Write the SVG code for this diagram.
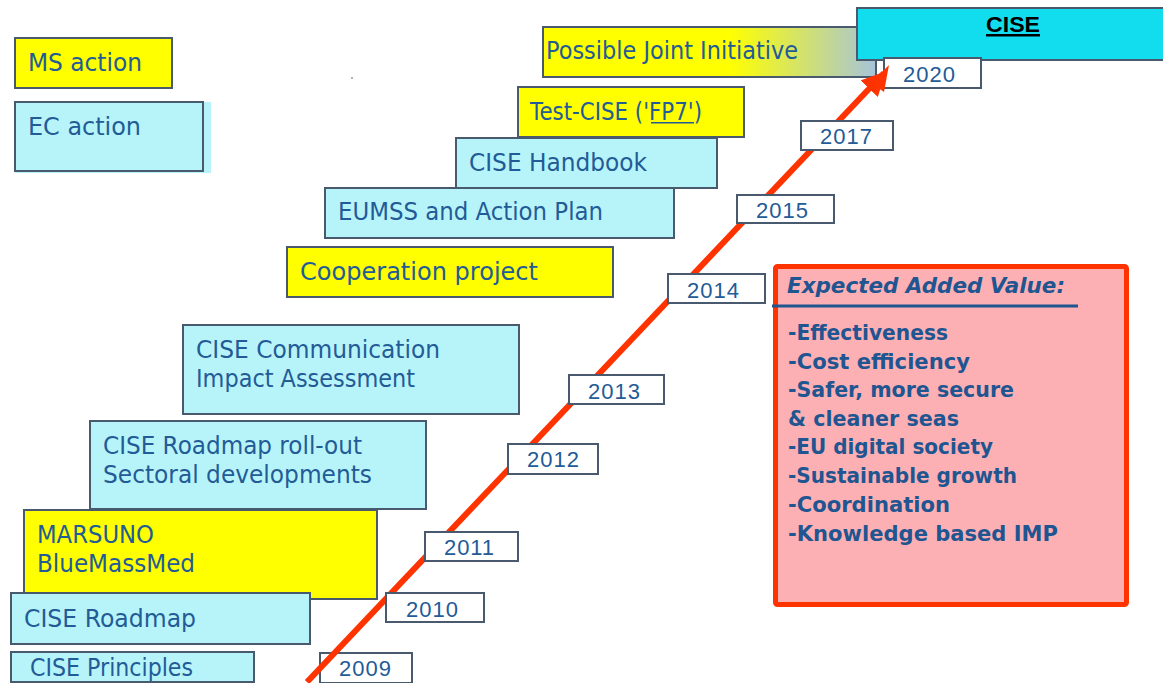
<svg xmlns="http://www.w3.org/2000/svg" width="1163" height="683" viewBox="0 0 1163 683">
<style>
.box{stroke:#4a5a6e;stroke-width:2}
.ms{fill:#ffff00}
.ec{fill:#b7f4f9}
.yr{fill:#ffffff;stroke:#4a5a6e;stroke-width:2}
.t{font-family:"DejaVu Sans",sans-serif;font-size:24px;fill:#235b97}
.y{font-family:"Liberation Sans",Arial,sans-serif;font-size:22px;fill:#235b97;text-anchor:middle}
.v{font-family:"DejaVu Sans",sans-serif;font-size:22px;font-weight:bold;fill:#1f5590}
</style>
<defs>
<linearGradient id="pji" x1="0" y1="0" x2="1" y2="0">
<stop offset="0" stop-color="#ffff00"/>
<stop offset="0.56" stop-color="#ffff00"/>
<stop offset="1" stop-color="#a6c4da"/>
</linearGradient>
<marker id="ah" viewBox="0 0 10 10" refX="9" refY="5" markerWidth="4" markerHeight="4" orient="auto" markerUnits="strokeWidth">
<path d="M0,0 L10,5 L0,10 z" fill="#ff3300"/>
</marker>
</defs>
<rect width="1163" height="683" fill="#ffffff"/>
<circle cx="352" cy="78" r="0.8" fill="#555"/>

<g id="legend-ms"><rect class="box ms" x="15" y="38" width="157" height="50"/><text class="t" x="28" y="71" textLength="114" lengthAdjust="spacingAndGlyphs">MS action</text></g>
<g id="legend-ec"><rect x="15" y="102" width="196" height="71" fill="#b7f4f9"/><rect class="box ec" x="15" y="102" width="188" height="69"/><text class="t" x="28" y="135" textLength="113" lengthAdjust="spacingAndGlyphs">EC action</text></g>

<g id="possible-joint"><rect class="box" fill="url(#pji)" x="543" y="27" width="333" height="50"/><text class="t" x="546" y="59" textLength="252" lengthAdjust="spacingAndGlyphs">Possible Joint Initiative</text></g>
<g id="cise"><rect x="857" y="8" width="310" height="52" fill="#12ddef" stroke="#4a5a6e" stroke-width="2"/><text x="1013" y="32" text-anchor="middle" font-family="Liberation Sans,Arial,sans-serif" font-size="22" font-weight="bold" fill="#000" textLength="54" lengthAdjust="spacingAndGlyphs">CISE</text><rect x="986" y="34" width="54" height="2.5" fill="#000"/></g>
<g id="test-cise"><rect class="box ms" x="518" y="87" width="226" height="50"/>
<text class="t" x="530" y="120" textLength="172" lengthAdjust="spacingAndGlyphs">Test-CISE ('FP7')</text>
<rect x="651" y="122" width="43" height="1.5" fill="#235b97"/></g>
<g id="handbook"><rect class="box ec" x="456" y="138" width="261" height="50"/><text class="t" x="469" y="171" textLength="178" lengthAdjust="spacingAndGlyphs">CISE Handbook</text></g>
<g id="eumss"><rect class="box ec" x="325" y="188" width="349" height="50"/><text class="t" x="338" y="220" textLength="265" lengthAdjust="spacingAndGlyphs">EUMSS and Action Plan</text></g>
<g id="cooperation"><rect class="box ms" x="287" y="247" width="326" height="50"/><text class="t" x="300" y="280" textLength="238" lengthAdjust="spacingAndGlyphs">Cooperation project</text></g>
<g id="communication"><rect class="box ec" x="183" y="325" width="336" height="89"/><text class="t" x="196" y="358" textLength="244" lengthAdjust="spacingAndGlyphs">CISE Communication</text><text class="t" x="196" y="387" textLength="219" lengthAdjust="spacingAndGlyphs">Impact Assessment</text></g>
<g id="rollout"><rect class="box ec" x="90" y="421" width="336" height="88"/><text class="t" x="103" y="454" textLength="259" lengthAdjust="spacingAndGlyphs">CISE Roadmap roll-out</text><text class="t" x="103" y="483" textLength="269" lengthAdjust="spacingAndGlyphs">Sectoral developments</text></g>
<g id="marsuno"><rect class="box ms" x="24" y="510" width="353" height="89"/><text class="t" x="37" y="543" textLength="117" lengthAdjust="spacingAndGlyphs">MARSUNO</text><text class="t" x="37" y="572" textLength="158" lengthAdjust="spacingAndGlyphs">BlueMassMed</text></g>
<g id="roadmap"><rect class="box ec" x="11" y="593" width="299" height="51"/><text class="t" x="24" y="627" textLength="172" lengthAdjust="spacingAndGlyphs">CISE Roadmap</text></g>
<g id="principles"><rect class="box ec" x="11" y="652" width="243" height="30"/><text class="t" x="30" y="676" textLength="163" lengthAdjust="spacingAndGlyphs">CISE Principles</text></g>

<g id="y2009"><rect class="yr" x="320" y="653" width="92" height="30"/><text class="y" x="365" y="676" textLength="52">2009</text></g>

<g id="connectors">
<line x1="307" y1="682" x2="884" y2="73" stroke="#ff3300" stroke-width="6" marker-end="url(#ah)"/>
</g>

<g id="y2010"><rect class="yr" x="386" y="593" width="98" height="29"/><text class="y" x="432" y="617" textLength="52">2010</text></g>
<g id="y2011"><rect class="yr" x="425" y="532" width="93" height="29"/><text class="y" x="469" y="555" textLength="50">2011</text></g>
<g id="y2012"><rect class="yr" x="508" y="444" width="90" height="30"/><text class="y" x="553" y="467" textLength="52">2012</text></g>
<g id="y2013"><rect class="yr" x="569" y="375" width="95" height="29"/><text class="y" x="614" y="399" textLength="52">2013</text></g>
<g id="y2014"><rect class="yr" x="668" y="274" width="97" height="29"/><text class="y" x="713" y="298" textLength="52">2014</text></g>
<g id="y2015"><rect class="yr" x="737" y="195" width="97" height="28"/><text class="y" x="782" y="218" textLength="52">2015</text></g>
<g id="y2017"><rect class="yr" x="801" y="121" width="92" height="29"/><text class="y" x="846" y="144" textLength="52">2017</text></g>
<g id="y2020"><rect class="yr" x="884" y="58" width="97" height="30"/><text class="y" x="929" y="82" textLength="52">2020</text></g>
<path d="M871,83 L889,65 L884,92 z" fill="#ff3300"/>

<g id="added-value">
<rect x="775.5" y="266.5" width="351" height="338" rx="2" fill="#fdb0b4" stroke="#ff3300" stroke-width="5"/>
<text x="787" y="293" font-family="DejaVu Sans,sans-serif" font-size="22" font-weight="bold" font-style="italic" fill="#1f5590" textLength="278" lengthAdjust="spacingAndGlyphs">Expected Added Value:</text>
<rect x="772" y="304.5" width="306" height="3" fill="#1f5590"/>
<text class="v" x="788" y="340" textLength="160" lengthAdjust="spacingAndGlyphs">-Effectiveness</text>
<text class="v" x="788" y="369" textLength="182" lengthAdjust="spacingAndGlyphs">-Cost efficiency</text>
<text class="v" x="788" y="397" textLength="226" lengthAdjust="spacingAndGlyphs">-Safer, more secure</text>
<text class="v" x="788" y="426" textLength="171" lengthAdjust="spacingAndGlyphs">&amp; cleaner seas</text>
<text class="v" x="788" y="454" textLength="205" lengthAdjust="spacingAndGlyphs">-EU digital society</text>
<text class="v" x="788" y="483" textLength="229" lengthAdjust="spacingAndGlyphs">-Sustainable growth</text>
<text class="v" x="788" y="512" textLength="162" lengthAdjust="spacingAndGlyphs">-Coordination</text>
<text class="v" x="788" y="541" textLength="270" lengthAdjust="spacingAndGlyphs">-Knowledge based IMP</text>
</g>
</svg>
